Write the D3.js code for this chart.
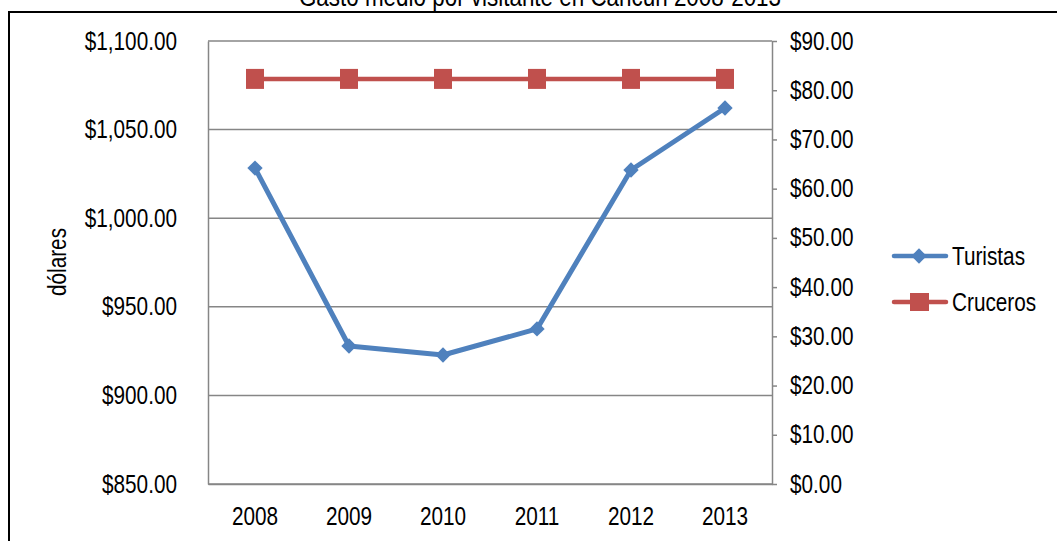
<!DOCTYPE html>
<html>
<head>
<meta charset="utf-8">
<script src="https://cdn.jsdelivr.net/npm/d3@7"></script>
<style>
  html, body { margin: 0; padding: 0; background: #fff; }
  svg { display: block; font-family: "Liberation Sans Narrow", "Arial Narrow", "Liberation Sans", Arial, sans-serif; }
</style>
</head>
<body>
<svg id="chart" width="1057" height="541"></svg>
<script>
// Average spending per visitor in Cancún, 2008-2013
const years = ["2008", "2009", "2010", "2011", "2012", "2013"];
const turistas = [1028.3, 927.9, 922.8, 937.5, 1027.2, 1062.2];   // left axis (USD)
const cruceros = [82.3, 82.3, 82.3, 82.3, 82.3, 82.3];             // right axis (USD)
const leftTicks = [850, 900, 950, 1000, 1050, 1100];
const rightTicks = [0, 10, 20, 30, 40, 50, 60, 70, 80, 90];
const seriesNames = ["Turistas", "Cruceros"];
const title = "Gasto medio por visitante en Cancún 2008-2013";
const yLabel = "dólares";

const BLUE = "#4F81BD", RED = "#C0504D", GRID = "#868686";
const FS = 25;
const svg = d3.select("#chart");

const plot = { left: 208, right: 772, top: 41, bottom: 484 };

const x = d3.scaleBand().domain(years).range([plot.left, plot.right]);
const yL = d3.scaleLinear().domain([850, 1100]).range([plot.bottom, plot.top]);
const yR = d3.scaleLinear().domain([0, 90]).range([plot.bottom, plot.top]);
const money = d => "$" + d3.format(",.2f")(d);

// outer chart frame
svg.append("rect")
  .attr("x", 9).attr("y", 12).attr("width", 1100).attr("height", 600)
  .attr("fill", "none").attr("stroke", "#000").attr("stroke-width", 2);

// title (sits partly above the frame)
svg.append("text")
  .attr("x", 540).attr("y", 6)
  .attr("text-anchor", "middle")
  .attr("font-size", 27)
  .attr("fill", "#000")
  .text(title);

// horizontal gridlines from the left axis
svg.append("g")
  .selectAll("line")
  .data(leftTicks)
  .join("line")
  .attr("x1", plot.left).attr("x2", plot.right)
  .attr("y1", d => yL(d)).attr("y2", d => yL(d))
  .attr("stroke", GRID).attr("stroke-width", 1.5);

// left axis
const gL = svg.append("g")
  .attr("transform", `translate(${plot.left},0)`)
  .call(d3.axisLeft(yL).tickValues(leftTicks).tickSize(0).tickPadding(31).tickFormat(money));
gL.select(".domain").attr("stroke", GRID).attr("stroke-width", 1.5);

// right axis
const gR = svg.append("g")
  .attr("transform", `translate(${plot.right},0)`)
  .call(d3.axisRight(yR).tickValues(rightTicks).tickSizeInner(5).tickSizeOuter(0).tickPadding(13).tickFormat(money));
gR.select(".domain").attr("stroke", GRID).attr("stroke-width", 1.5);
gR.selectAll(".tick line").attr("stroke", GRID).attr("stroke-width", 1.5);

// bottom axis
const gB = svg.append("g")
  .attr("transform", `translate(0,${plot.bottom})`)
  .call(d3.axisBottom(x).tickSize(0).tickPadding(23));
gB.select(".domain").attr("stroke", GRID).attr("stroke-width", 1.5);

[gL, gR, gB].forEach(g => g.selectAll("text")
  .attr("font-size", FS).attr("fill", "#000").attr("font-family", null));

// y-axis title
svg.append("text")
  .attr("transform", "translate(66,262) rotate(-90)")
  .attr("text-anchor", "middle")
  .attr("font-size", FS)
  .attr("fill", "#000")
  .text(yLabel);

const cx = d => x(d) + x.bandwidth() / 2;
const diamond = d3.symbol().type(d3.symbolDiamond2).size(150);

// Cruceros series (right axis)
svg.append("path")
  .datum(cruceros)
  .attr("fill", "none").attr("stroke", RED).attr("stroke-width", 4.5)
  .attr("d", d3.line().x((d, i) => cx(years[i])).y(d => yR(d)));
svg.append("g").selectAll("rect")
  .data(cruceros)
  .join("rect")
  .attr("x", (d, i) => cx(years[i]) - 9).attr("y", d => yR(d) - 10)
  .attr("width", 18).attr("height", 20)
  .attr("fill", RED);

// Turistas series (left axis)
svg.append("path")
  .datum(turistas)
  .attr("fill", "none").attr("stroke", BLUE).attr("stroke-width", 5)
  .attr("stroke-linejoin", "round")
  .attr("d", d3.line().x((d, i) => cx(years[i])).y(d => yL(d)));
svg.append("g").selectAll("path")
  .data(turistas)
  .join("path")
  .attr("transform", (d, i) => `translate(${cx(years[i])},${yL(d)})`)
  .attr("d", diamond)
  .attr("fill", BLUE);

// legend
const legend = svg.append("g");
const legendRows = [
  { name: seriesNames[0], color: BLUE, shape: "diamond", y: 256 },
  { name: seriesNames[1], color: RED, shape: "square", y: 302 }
];
legendRows.forEach(r => {
  legend.append("line")
    .attr("x1", 894).attr("x2", 946).attr("y1", r.y).attr("y2", r.y)
    .attr("stroke", r.color).attr("stroke-width", 4.5).attr("stroke-linecap", "round");
  if (r.shape === "diamond") {
    legend.append("path")
      .attr("transform", `translate(919,${r.y})`)
      .attr("d", diamond).attr("fill", r.color);
  } else {
    legend.append("rect")
      .attr("x", 910).attr("y", r.y - 9).attr("width", 19).attr("height", 18)
      .attr("fill", r.color);
  }
  legend.append("text")
    .attr("x", 952).attr("y", r.y).attr("dy", "0.35em")
    .attr("font-size", FS).attr("fill", "#000")
    .text(r.name);
});

// condense all labels horizontally to a narrow face
svg.selectAll("text").each(function () {
  const len = this.getComputedTextLength();
  d3.select(this).attr("textLength", len * 0.83).attr("lengthAdjust", "spacingAndGlyphs");
});
</script>
</body>
</html>
